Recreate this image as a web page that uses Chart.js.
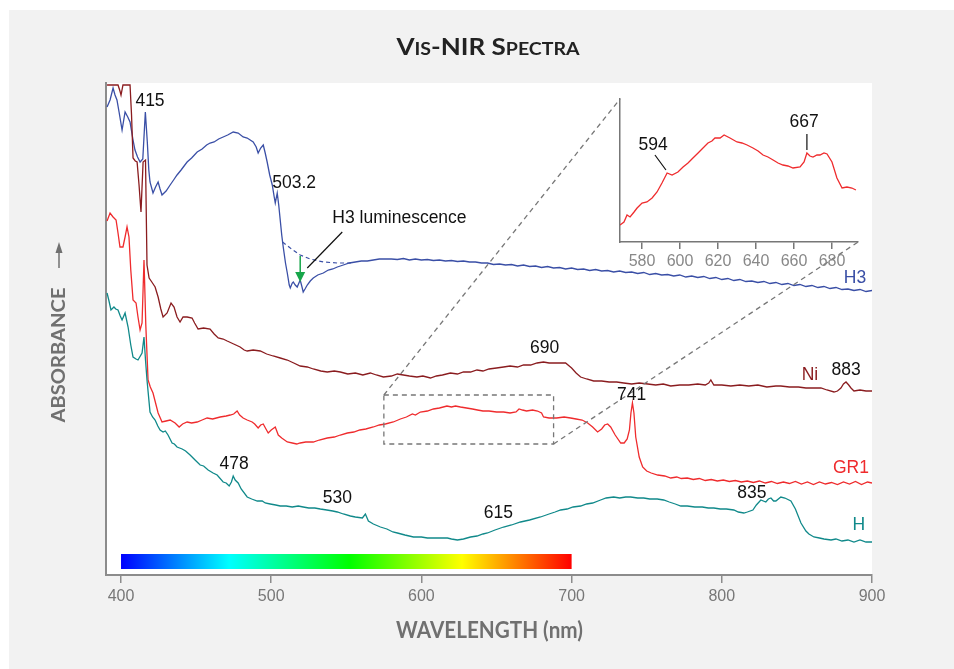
<!DOCTYPE html>
<html>
<head>
<meta charset="utf-8">
<title>Vis-NIR Spectra</title>
<script src="https://cdn.jsdelivr.net/npm/chart.js@4.4.0/dist/chart.umd.min.js"></script>
<style>
  html, body { margin: 0; padding: 0; background: #fff; }
  #wrap { position: relative; width: 954px; height: 669px; }
  #main { position: absolute; left: 0; top: 0; }
  #inset { position: absolute; left: 600px; top: 85px; }
</style>
</head>
<body>
<div id="wrap">
  <canvas id="main" width="954" height="669"></canvas>
  <canvas id="inset" width="280" height="190"></canvas>
</div>
<script>
// wavelength (nm), absorbance (arbitrary, offset per trace)
const h3 = [
  [390.7,4.68],[392.7,4.75],[394.7,4.87],[396,4.80],[397.3,4.75],[398.7,4.63],[400.7,4.45],[402.7,4.63],[404.5,4.58],[406,4.53],
  [408,4.35],[409.3,4.25],[411,4.18],[412.7,4.13],[414.5,4.16],[416.2,4.63],[417.5,4.33],[418.5,4.05],[419.3,3.93],[421.3,3.82],
  [423,3.88],[424.7,3.93],[426,3.86],[427.3,3.80],[430,3.84],[432.7,3.90],[435,3.95],[437.3,4.00],[440,4.05],[442,4.09],
  [444,4.13],[447,4.17],[450.7,4.23],[454,4.26],[457,4.30],[459.3,4.32],[462,4.33],[465,4.36],[468,4.38],[471,4.40],
  [474.7,4.43],[478,4.42],[481.3,4.38],[484,4.37],[488,4.33],[490,4.28],[491.3,4.22],[493,4.27],[494.7,4.30],[496,4.22],
  [497.3,4.13],[499,4.00],[500.7,3.90],[502,3.78],[502.7,3.72],[504,3.82],[505,3.70],[506,3.55],[507,3.40],[508,3.28],
  [509.5,3.12],[510.7,3.02],[512,2.90],[512.7,2.87],[514,2.92],[514.7,2.93],[516,2.90],[517.3,2.88],[519.3,2.95],[520.5,2.88],
  [521.3,2.83],[522.5,2.86],[524,2.90],[526,2.94],[528,2.97],[531,3.00],[534.7,3.02],[538,3.05],[541,3.06],[544,3.08],
  [548,3.10],[552,3.12],[556,3.13],[560,3.14],[564,3.14],[568,3.15],[572,3.16],[576,3.16],[580,3.16],[584,3.155],
  [588,3.165],[592,3.15],[596,3.16],[600,3.15],[604,3.155],[608,3.145],[612,3.15],[616,3.14],[620,3.145],[624,3.135],
  [628,3.14],[632,3.13],[636,3.13],[640,3.12],[644,3.12],[648,3.105],[652,3.11],[656,3.10],[660,3.105],[664,3.09],
  [668,3.10],[672,3.085],[676,3.09],[680,3.075],[684,3.085],[688,3.07],[692,3.075],[696,3.06],[700,3.07],[704,3.055],
  [708,3.06],[712,3.045],[716,3.055],[720,3.04],[724,3.045],[728,3.03],[732,3.04],[736,3.025],[740,3.03],[744,3.015],
  [748,3.025],[752,3.005],[756,3.015],[760,3.00],[764,3.005],[768,2.99],[772,3.00],[776,2.98],[780,2.99],[784,2.975],
  [788,2.985],[792,2.965],[796,2.975],[800,2.955],[804,2.965],[808,2.945],[812,2.955],[816,2.935],[820,2.94],[824,2.925],
  [828,2.935],[832,2.915],[836,2.925],[840,2.905],[844,2.915],[848,2.895],[852,2.905],[856,2.885],[860,2.895],[864,2.875],
  [868,2.885],[872,2.865],[876,2.875],[880,2.855],[884,2.86],[888,2.845],[892,2.855],[896,2.835],[900,2.845]
];
// H3 trace with the luminescence removed (dashed)
const h3NoLum = [[507.5,3.33],[512.7,3.27],[519.3,3.20],[526,3.16],[534.7,3.13],[544,3.12],[553,3.12]];

const ni = [
  [390.7,4.90],[398,4.90],[399.3,4.84],[400,4.80],[401.3,4.90],[406,4.90],[407,4.60],[408,4.17],[409.5,4.14],[410.7,4.13],
  [412,3.90],[413.3,3.63],[414.7,4.13],[416.3,4.15],[417.3,3.10],[418.7,2.97],[420.5,2.93],[422.7,2.88],[424.7,2.78],[426.5,2.66],
  [428,2.58],[430.7,2.62],[433.3,2.72],[435.3,2.68],[437.3,2.58],[439.3,2.53],[441.3,2.58],[444,2.58],[447.3,2.57],[449,2.52],
  [451.3,2.46],[455,2.47],[459.3,2.46],[462,2.41],[464.7,2.37],[468,2.36],[470.7,2.34],[475,2.31],[479.3,2.28],[482,2.25],
  [484,2.24],[488,2.25],[492.7,2.24],[497,2.21],[501.3,2.19],[506,2.17],[510.7,2.15],[515,2.12],[519.3,2.09],[524,2.08],
  [528,2.06],[533,2.04],[537.3,2.03],[542,2.04],[546,2.03],[551,2.01],[556,2.02],[561,2.00],[566,2.02],[570,2.00],
  [574.7,1.98],[580,1.99],[584,2.01],[588,2.00],[592,1.99],[597,1.98],[601,1.99],[606,1.97],[610,1.99],[614,2.00],
  [619.3,2.02],[624,2.01],[628,2.03],[632.7,2.03],[637,2.05],[641,2.04],[645,2.06],[650,2.07],[654.7,2.08],[659,2.09],
  [664,2.08],[668,2.10],[672.7,2.10],[677,2.12],[681.3,2.13],[685,2.12],[690,2.12],[696,2.12],[700,2.07],[703,2.02],
  [706,1.98],[710,1.96],[714.7,1.94],[720,1.94],[725,1.93],[730,1.93],[734.7,1.92],[740,1.91],[745,1.92],[750.7,1.91],
  [756,1.90],[761,1.91],[766,1.89],[772,1.90],[778,1.90],[784,1.91],[789,1.90],[791.3,1.92],[792.7,1.95],[794.7,1.90],
  [800,1.90],[806,1.89],[812,1.90],[818,1.89],[824,1.90],[830,1.88],[836,1.89],[839.3,1.89],[845,1.88],[851,1.88],
  [856,1.87],[861.3,1.87],[866,1.87],[870,1.85],[874.7,1.83],[877,1.84],[879.3,1.87],[881,1.91],[882.7,1.93],[884.5,1.90],
  [886,1.87],[888,1.84],[892,1.85],[896,1.84],[900,1.84]
];

const gr1 = [
  [390.7,3.54],[392.7,3.62],[394.7,3.58],[396.7,3.55],[398,3.42],[399.3,3.28],[401.3,3.28],[402.7,3.38],[404,3.48],[405.3,3.38],
  [406.5,3.05],[408,2.75],[410,2.72],[411.3,2.58],[412.7,2.45],[414,2.52],[415.3,3.15],[416.5,2.50],[418,1.95],[419.5,1.88],
  [421.3,1.82],[423,1.72],[424.7,1.62],[427.3,1.53],[430,1.54],[432.7,1.55],[436,1.52],[438.7,1.48],[441,1.51],[444,1.53],
  [447,1.52],[450.7,1.53],[454,1.55],[457.3,1.57],[461,1.56],[466,1.58],[470,1.59],[472.7,1.60],[475,1.61],[477.3,1.64],
  [479,1.60],[481.3,1.57],[484,1.55],[487.3,1.53],[489,1.51],[491.3,1.47],[493,1.50],[494.7,1.51],[496.5,1.46],[498,1.42],
  [500,1.45],[502.7,1.48],[504.7,1.40],[507,1.37],[510.7,1.33],[514,1.32],[517,1.31],[519.3,1.32],[523,1.33],[528,1.33],
  [532,1.35],[537.3,1.37],[542,1.38],[546,1.40],[550.7,1.42],[555,1.43],[559,1.45],[563,1.46],[568,1.48],[572,1.50],
  [576,1.51],[581.3,1.53],[586,1.56],[590,1.58],[594,1.61],[596,1.60],[599.3,1.63],[604,1.64],[608,1.66],[612,1.67],
  [617,1.69],[620,1.68],[622.7,1.69],[626,1.68],[630,1.67],[634,1.66],[637.3,1.65],[641,1.64],[645,1.64],[650,1.63],
  [654.7,1.63],[659,1.62],[663,1.63],[665,1.66],[667.3,1.65],[670,1.64],[674,1.65],[677.3,1.64],[680,1.62],[681.3,1.58],
  [685,1.57],[690,1.57],[695,1.58],[699.3,1.57],[703,1.56],[707,1.55],[710.7,1.52],[714,1.48],[717.3,1.43],[720,1.46],
  [722,1.50],[724,1.51],[726,1.48],[729,1.40],[732.7,1.32],[735,1.32],[737,1.36],[738.5,1.45],[739.5,1.62],[740.5,1.72],
  [741.5,1.62],[742.7,1.38],[745,1.18],[747.3,1.08],[750,1.04],[753,1.02],[757.3,1.00],[762,0.99],[766,0.97],[770,0.98],
  [773,0.965],[777,0.97],[781,0.955],[785,0.965],[789,0.945],[793,0.955],[797,0.94],[801,0.95],[805,0.935],[809,0.945],
  [813,0.93],[817,0.94],[821,0.925],[825,0.94],[829,0.92],[833,0.935],[837,0.915],[841,0.93],[845,0.915],[849,0.935],
  [853,0.91],[857,0.93],[861,0.905],[865,0.93],[869,0.91],[873,0.925],[877,0.905],[881,0.93],[885,0.91],[889,0.935],
  [893,0.905],[897,0.93],[900,0.92]
];

const hCentre = [
  [390.7,2.82],[392,2.74],[393.3,2.65],[395.3,2.68],[396.5,2.66],[398,2.65],[399.5,2.59],[400.7,2.55],[402.7,2.62],[404.7,2.48],
  [406.5,2.30],[408,2.18],[410,2.16],[411.3,2.15],[414,2.22],[415.3,2.38],[416.3,2.15],[417.3,1.95],[419.3,1.63],[421,1.58],
  [422.7,1.55],[424.5,1.49],[426,1.45],[428,1.43],[429.5,1.44],[431.3,1.40],[434,1.32],[435.5,1.31],[437.3,1.28],[440.7,1.26],
  [443,1.24],[446,1.20],[449.3,1.15],[452.7,1.10],[455,1.09],[458,1.05],[461.3,1.02],[464,1.00],[468,0.93],[470,0.92],
  [472,0.89],[473.5,0.93],[474.7,0.99],[476,0.95],[478,0.92],[480,0.86],[484,0.78],[487,0.76],[490.7,0.74],[494,0.74],
  [496,0.72],[499.3,0.71],[503,0.70],[506,0.69],[510,0.69],[514,0.68],[518,0.69],[521.3,0.68],[525,0.67],[529,0.67],
  [532.7,0.66],[537,0.65],[541,0.64],[544,0.63],[548,0.61],[552.7,0.59],[556,0.58],[560.7,0.57],[562.7,0.61],[564.7,0.54],
  [568,0.51],[572.7,0.48],[577,0.46],[581,0.43],[584,0.42],[589,0.40],[594.7,0.38],[600,0.38],[604,0.37],[608,0.37],
  [612,0.37],[617.3,0.37],[620,0.36],[624,0.35],[628,0.36],[632.7,0.38],[637,0.39],[641,0.41],[644,0.42],[649,0.45],
  [654.7,0.48],[660,0.50],[666,0.53],[672,0.55],[679.3,0.58],[685,0.61],[689,0.63],[692.7,0.65],[697,0.66],[701,0.68],
  [706,0.69],[710,0.71],[714,0.72],[719.3,0.75],[723,0.77],[728,0.78],[732,0.77],[736,0.78],[739.3,0.78],[744,0.77],
  [748,0.77],[752,0.76],[757,0.76],[761.3,0.75],[765,0.73],[769,0.71],[772.7,0.69],[777,0.69],[782,0.68],[787,0.68],
  [791,0.67],[794.7,0.67],[799,0.66],[803,0.66],[808,0.65],[811,0.63],[814.7,0.62],[817,0.63],[820.7,0.65],[823,0.70],
  [826,0.75],[829.3,0.73],[831,0.76],[832.7,0.77],[834.5,0.74],[836,0.74],[839.3,0.78],[842,0.77],[846,0.74],[849,0.66],
  [852.7,0.52],[856,0.44],[858,0.41],[861.3,0.38],[865,0.37],[868,0.36],[872.7,0.35],[876,0.36],[880,0.34],[884,0.35],
  [888,0.33],[892,0.35],[896,0.33],[900,0.33]
];

// inset: GR1 trace, 568-693 nm
const insetGr1 = [
  [568.4,0.17],[570.5,0.20],[572.1,0.27],[573.7,0.25],[575.8,0.30],[577.4,0.34],[580,0.39],[582.6,0.40],[585.3,0.44],[587.9,0.50],
  [590.5,0.59],[593.2,0.69],[595.8,0.67],[598.9,0.70],[601.6,0.75],[604.2,0.79],[606.8,0.84],[609.5,0.89],[612.1,0.94],[614.7,0.99],
  [616.8,1.01],[618.4,1.04],[621.1,1.04],[623.2,1.07],[626.3,1.04],[630,1.00],[632.6,0.99],[635.3,0.97],[638.4,0.94],[641.1,0.91],
  [643.7,0.87],[646.3,0.85],[649,0.82],[651.6,0.79],[654.2,0.77],[656.8,0.76],[659.5,0.74],[663.2,0.75],[665.3,0.80],[666.8,0.89],
  [668.4,0.86],[670,0.85],[672.1,0.87],[673.7,0.87],[675.8,0.89],[677.4,0.88],[680,0.80],[682.6,0.64],[685.3,0.54],[687.9,0.55],
  [690.5,0.54],[692.6,0.52]
];

const xTicks = [400, 500, 600, 700, 800, 900];
const insetTicks = [580, 600, 620, 640, 660, 680];
const spectrumStops = [[400,'#0000ff'],[472,'#00ffff'],[552,'#00ff00'],[627,'#ffff00'],[700,'#ff0000']];
const zoomWl = [575, 688];
const zoomAbs = [1.31, 1.80];

const blue = '#3a4fa6', darkRed = '#8a1c1f', red = '#ef2b2d', teal = '#10898a', green = '#17a64a';
const insetBox = { left: 620, top: 99, right: 858, bottom: 242 };
const labelFont = '17.5px "Liberation Sans", Arial, sans-serif';

const toXY = pts => pts.map(p => ({ x: p[0], y: p[1] }));

function fitText(c, text, x, y, width) {
  const w = c.measureText(text).width;
  c.save();
  c.translate(x, y);
  c.scale(width / w, 1);
  c.fillText(text, 0, 0);
  c.restore();
}

const backdrop = {
  id: 'backdrop',
  beforeDraw(chart) {
    const c = chart.ctx, a = chart.chartArea;
    c.save();
    c.fillStyle = '#fff';
    c.fillRect(0, 0, chart.width, chart.height);
    c.fillStyle = '#f2f2f2';
    c.fillRect(9, 10, chart.width - 9, chart.height - 10);
    c.fillStyle = '#fff';
    c.fillRect(a.left, a.top, a.right - a.left, a.bottom - a.top);
    // visible-spectrum bar
    const xs = chart.scales.x, ys = chart.scales.y;
    const x0 = xs.getPixelForValue(400), x1 = xs.getPixelForValue(700);
    const g = c.createLinearGradient(x0, 0, x1, 0);
    spectrumStops.forEach(s => g.addColorStop((s[0] - 400) / 300, s[1]));
    c.fillStyle = g;
    const yt = ys.getPixelForValue(0.21), yb = ys.getPixelForValue(0.06);
    c.fillRect(x0, yt, x1 - x0, yb - yt);
    c.restore();
  }
};

const marks = {
  id: 'marks',
  afterDatasetsDraw(chart) {
    const c = chart.ctx, xs = chart.scales.x, ys = chart.scales.y;
    const px = v => xs.getPixelForValue(v), py = v => ys.getPixelForValue(v);
    c.save();

    // zoom box and lines to the inset
    c.strokeStyle = '#777';
    c.lineWidth = 1.3;
    c.setLineDash([5, 4]);
    const l = px(zoomWl[0]), r = px(zoomWl[1]), t = py(zoomAbs[1]), b = py(zoomAbs[0]);
    c.strokeRect(l, t, r - l, b - t);
    c.beginPath();
    c.moveTo(l, t); c.lineTo(insetBox.left, insetBox.top);
    c.moveTo(r, b); c.lineTo(insetBox.right, insetBox.bottom);
    c.stroke();
    c.setLineDash([]);

    // green arrow for H3 luminescence
    const ax = px(519.3), ay0 = py(3.19), ay1 = py(2.93);
    c.strokeStyle = green; c.fillStyle = green; c.lineWidth = 1.5;
    c.beginPath(); c.moveTo(ax, ay0); c.lineTo(ax, ay1 - 8); c.stroke();
    c.beginPath(); c.moveTo(ax - 5, ay1 - 10); c.lineTo(ax + 5, ay1 - 10); c.lineTo(ax, ay1); c.closePath(); c.fill();

    // leader for the luminescence note
    c.strokeStyle = '#111'; c.lineWidth = 1.2;
    c.beginPath(); c.moveTo(px(547.3), py(3.43)); c.lineTo(px(524), py(3.07)); c.stroke();

    c.font = labelFont;
    c.textBaseline = 'middle';
    c.textAlign = 'left';
    c.fillStyle = '#111';
    c.fillText('H3 luminescence', px(540.7), py(3.57));

    c.textAlign = 'center';
    const notes = [
      ['415', 419.3, 4.74, '#111'], ['503.2', 515.3, 3.92, '#111'], ['690', 682, 2.27, '#111'],
      ['741', 740, 1.80, '#111'], ['883', 882.7, 2.05, '#111'], ['835', 820, 0.82, '#111'],
      ['615', 651.3, 0.62, '#111'], ['530', 544, 0.77, '#111'], ['478', 475.3, 1.11, '#111'],
      ['H3', 888.7, 2.97, blue], ['Ni', 858.7, 2.00, darkRed], ['GR1', 886, 1.07, red], ['H', 891.3, 0.50, teal]
    ];
    notes.forEach(n => { c.fillStyle = n[3]; c.fillText(n[0], px(n[1]), py(n[2])); });
    c.restore();
  },
  afterDraw(chart) {
    const c = chart.ctx, a = chart.chartArea;
    c.save();
    // title in small caps
    const parts = [['V', 22], ['IS', 16.5], ['-NIR ', 22], ['S', 22], ['PECTRA', 16.5]];
    let total = 0;
    parts.forEach(p => { c.font = 'bold ' + p[1] + 'px Lato, sans-serif'; total += c.measureText(p[0]).width; });
    const k = 183 / total;
    let x = 488 - 91.5;
    c.fillStyle = '#222';
    c.textBaseline = 'alphabetic';
    c.textAlign = 'left';
    parts.forEach(p => {
      c.font = 'bold ' + p[1] + 'px Lato, sans-serif';
      const w = c.measureText(p[0]).width;
      c.save(); c.translate(x, 55); c.scale(k, 1); c.fillText(p[0], 0, 0); c.restore();
      x += w * k;
    });

    // axis titles
    c.fillStyle = '#707070';
    c.textAlign = 'center';
    c.textBaseline = 'middle';
    c.font = 'bold 22px Lato, sans-serif';
    fitText(c, 'WAVELENGTH (nm)', (a.left + a.right) / 2 + 0.5, 631, 187);

    c.save();
    c.translate(59, 355);
    c.rotate(-Math.PI / 2);
    c.font = 'bold 19px Lato, sans-serif';
    fitText(c, 'ABSORBANCE', 0, 0, 135);
    c.restore();
    c.strokeStyle = '#707070'; c.lineWidth = 1.5;
    c.beginPath(); c.moveTo(59, 268); c.lineTo(59, 251); c.stroke();
    c.beginPath(); c.moveTo(55.5, 253); c.lineTo(62.5, 253); c.lineTo(59, 242); c.closePath(); c.fill();
    c.restore();
  }
};

new Chart(document.getElementById('main'), {
  type: 'line',
  data: {
    datasets: [
      { data: toXY(h3NoLum), borderColor: blue, borderWidth: 1.2, borderDash: [4, 3] },
      { data: toXY(hCentre), borderColor: teal },
      { data: toXY(gr1), borderColor: red },
      { data: toXY(ni), borderColor: darkRed },
      { data: toXY(h3), borderColor: blue }
    ]
  },
  options: {
    responsive: false,
    animation: false,
    elements: { point: { radius: 0 }, line: { borderWidth: 1.3, tension: 0 } },
    layout: { padding: { left: 106, right: 954 - 872, top: 83, bottom: 0 } },
    plugins: { legend: { display: false }, tooltip: { enabled: false } },
    scales: {
      x: {
        type: 'linear', min: 390, max: 900,
        afterBuildTicks: s => { s.ticks = xTicks.map(v => ({ value: v })); },
        afterFit: s => { s.height = 94; },
        grid: { drawOnChartArea: false, tickLength: 8, color: '#8c8c8c', lineWidth: 1.5 },
        border: { color: '#8c8c8c', width: 2 },
        ticks: { padding: 4, color: '#777', maxRotation: 0, font: { family: '"Liberation Sans Narrow", "Liberation Sans", sans-serif', size: 16 } }
      },
      y: {
        type: 'linear', min: 0, max: 4.92,
        afterFit: s => { s.width = 0; },
        ticks: { display: false },
        grid: { display: false },
        border: { color: '#8c8c8c', width: 2 }
      }
    }
  },
  plugins: [backdrop, marks]
});

const insetNotes = {
  id: 'insetNotes',
  afterDatasetsDraw(chart) {
    const c = chart.ctx, xs = chart.scales.x, ys = chart.scales.y;
    const px = v => xs.getPixelForValue(v), py = v => ys.getPixelForValue(v);
    c.save();
    c.strokeStyle = '#111'; c.lineWidth = 1.2;
    c.beginPath();
    c.moveTo(px(586.8), py(0.87)); c.lineTo(px(592.6), py(0.72));
    c.moveTo(px(666.8), py(1.08)); c.lineTo(px(666.8), py(0.92));
    c.stroke();
    c.font = labelFont;
    c.fillStyle = '#111';
    c.textAlign = 'center';
    c.textBaseline = 'middle';
    c.fillText('594', px(585.8), py(0.97));
    c.fillText('667', px(665.3), py(1.20));
    c.restore();
  }
};

new Chart(document.getElementById('inset'), {
  type: 'line',
  data: { datasets: [{ data: toXY(insetGr1), borderColor: red }] },
  options: {
    responsive: false,
    animation: false,
    elements: { point: { radius: 0 }, line: { borderWidth: 1.3, tension: 0 } },
    layout: { padding: { left: insetBox.left - 600, right: 880 - insetBox.right, top: insetBox.top - 85, bottom: 0 } },
    plugins: { legend: { display: false }, tooltip: { enabled: false } },
    scales: {
      x: {
        type: 'linear', min: 568.4, max: 693.7,
        afterBuildTicks: s => { s.ticks = insetTicks.map(v => ({ value: v })); },
        afterFit: s => { s.height = 85 + 190 - insetBox.bottom; },
        grid: { drawOnChartArea: false, tickLength: 7, color: '#777', lineWidth: 1.5 },
        border: { color: '#777', width: 1.5 },
        ticks: { padding: 3, color: '#888', maxRotation: 0, font: { family: '"Liberation Sans Narrow", "Liberation Sans", sans-serif', size: 16 } }
      },
      y: {
        type: 'linear', min: 0, max: 1.43,
        afterFit: s => { s.width = 0; },
        ticks: { display: false },
        grid: { display: false },
        border: { color: '#777', width: 1.5 }
      }
    }
  },
  plugins: [insetNotes]
});
</script>
</body>
</html>
